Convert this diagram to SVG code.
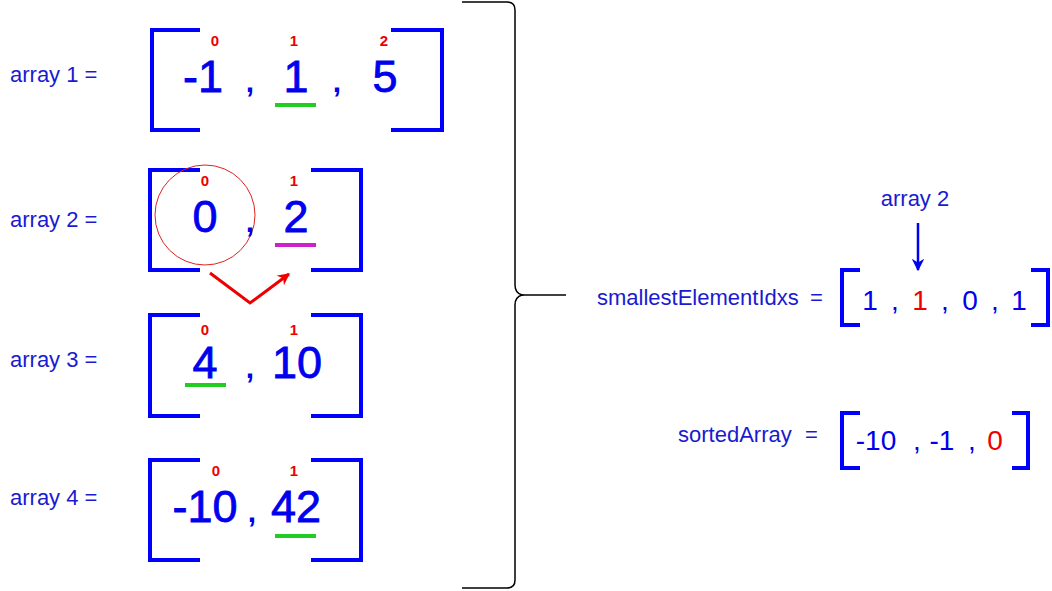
<svg xmlns="http://www.w3.org/2000/svg" width="1052" height="591" viewBox="0 0 1052 591">
<defs>
<style>
.lbl{font-family:"Liberation Sans",Arial,sans-serif;font-size:22px;fill:#1a1ad0}
.big{font-family:"Liberation Sans",Arial,sans-serif;font-size:45px;fill:#0000ee;stroke:#0000ee;stroke-width:0.8;text-anchor:middle}
.cm{font-family:"Liberation Sans",Arial,sans-serif;font-size:30px;font-weight:bold;fill:#0000ee;text-anchor:middle}
.idx{font-family:"Liberation Sans",Arial,sans-serif;font-size:15px;font-weight:bold;fill:#ee0000;text-anchor:middle}
.mid{font-family:"Liberation Sans",Arial,sans-serif;font-size:28px;fill:#0000ee;text-anchor:middle}
.brk{fill:none;stroke:#0000ff;stroke-width:4}
.ul{stroke-width:4}
</style>
<marker id="arrR" viewBox="0 0 10 10" refX="9" refY="5" markerWidth="4" markerHeight="4" orient="auto"><path d="M0,0 L10,5 L0,10 L3,5 Z" fill="#ee0000"/></marker>
<marker id="arrB" viewBox="0 0 10 10" refX="9" refY="5" markerWidth="5" markerHeight="5" orient="auto"><path d="M0,0 L10,5 L0,10 L3,5 Z" fill="#0000ee"/></marker>
</defs>
<rect width="1052" height="591" fill="#ffffff"/>

<g id="array1">
<text class="lbl" x="10" y="82">array 1 =</text>
<path class="brk" d="M200,30 H152 V130 H200"/>
<path class="brk" d="M391,30 H442 V130 H391"/>
<text class="idx" x="215" y="46">0</text>
<text class="idx" x="294" y="46">1</text>
<text class="idx" x="384" y="46">2</text>
<text class="big" x="203" y="92">-1</text>
<text class="cm" x="250" y="92">,</text>
<text class="big" x="296" y="92">1</text>
<text class="cm" x="337" y="92">,</text>
<text class="big" x="385" y="92">5</text>
<line class="ul" x1="275" y1="105" x2="316" y2="105" stroke="#22cc22"/>
</g>

<g id="array2">
<text class="lbl" x="10" y="227">array 2 =</text>
<path class="brk" d="M200,170 H150 V270 H200"/>
<path class="brk" d="M311,170 H361 V270 H311"/>
<circle cx="205" cy="215" r="50" fill="none" stroke="#dd2222" stroke-width="1"/>
<text class="idx" x="205" y="186">0</text>
<text class="idx" x="294" y="186">1</text>
<text class="big" x="205" y="232">0</text>
<text class="cm" x="250" y="232">,</text>
<text class="big" x="296" y="232">2</text>
<line class="ul" x1="275" y1="245" x2="316" y2="245" stroke="#cc22cc"/>
</g>

<g id="array3">
<text class="lbl" x="10" y="367">array 3 =</text>
<path class="brk" d="M200,315 H150 V416 H200"/>
<path class="brk" d="M311,315 H361 V416 H311"/>
<text class="idx" x="205" y="335">0</text>
<text class="idx" x="294" y="335">1</text>
<text class="big" x="205" y="378">4</text>
<text class="cm" x="250" y="378">,</text>
<text class="big" x="297" y="378">10</text>
<line class="ul" x1="185" y1="385" x2="226" y2="385" stroke="#22cc22"/>
</g>

<g id="array4">
<text class="lbl" x="10" y="505">array 4 =</text>
<path class="brk" d="M200,460 H150 V560 H200"/>
<path class="brk" d="M311,460 H361 V560 H311"/>
<text class="idx" x="216" y="476">0</text>
<text class="idx" x="294" y="476">1</text>
<text class="big" x="205" y="522">-10</text>
<text class="cm" x="252" y="522">,</text>
<text class="big" x="296" y="522">42</text>
<line class="ul" x1="275" y1="536" x2="316" y2="536" stroke="#22cc22"/>
</g>

<g id="smallestElementIdxs">
<text class="lbl" x="597" y="305">smallestElementIdxs</text>
<text class="lbl" x="810" y="305">=</text>
<path class="brk" d="M860,270 H842 V325 H860"/>
<path class="brk" d="M1031,270 H1048 V325 H1031"/>
<text class="mid" x="870" y="310">1</text>
<text class="mid" x="895" y="310">,</text>
<text class="mid" x="920" y="310" style="fill:#ee0000">1</text>
<text class="mid" x="945" y="310">,</text>
<text class="mid" x="970" y="310">0</text>
<text class="mid" x="995" y="310">,</text>
<text class="mid" x="1019" y="310">1</text>
</g>

<g id="array2label">
<text class="lbl" x="915" y="206" text-anchor="middle">array 2</text>
</g>

<g id="sortedArray">
<text class="lbl" x="678" y="442">sortedArray</text>
<text class="lbl" x="805" y="442">=</text>
<path class="brk" d="M860,413 H842 V468 H860"/>
<path class="brk" d="M1012,413 H1028 V468 H1012"/>
<text class="mid" x="876" y="450">-10</text>
<text class="mid" x="917" y="450">,</text>
<text class="mid" x="942" y="450">-1</text>
<text class="mid" x="972" y="450">,</text>
<text class="mid" x="995" y="450" style="fill:#ee0000">0</text>
</g>

<g id="connectors">
<path d="M462,2 H507 Q515,2 515,10 V285 Q515,293 522,295 Q515,297 515,305 V580 Q515,588 507,588 H462" fill="none" stroke="#000" stroke-width="1.5"/>
<line x1="522" y1="295" x2="566" y2="295" stroke="#000" stroke-width="1.5"/>
<polyline points="210,273 250,303 289,274" fill="none" stroke="#ee0000" stroke-width="3" marker-end="url(#arrR)"/>
<line x1="918" y1="223" x2="918" y2="270" stroke="#0000ee" stroke-width="2.5" marker-end="url(#arrB)"/>
</g>
</svg>
